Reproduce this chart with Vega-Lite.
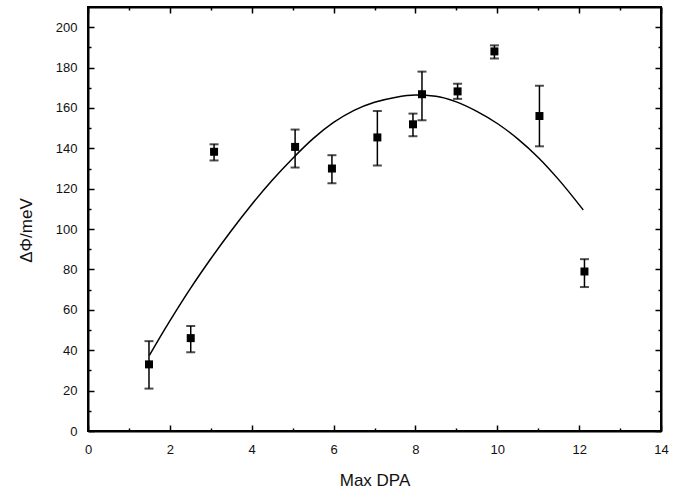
{
  "$schema": "https://vega.github.io/schema/vega-lite/v6.json",
  "width": 573,
  "height": 424,
  "autosize": "none",
  "padding": {"left": 88, "top": 7, "right": 25, "bottom": 62},
  "background": "white",
  "config": {
    "view": {"stroke": "black", "strokeWidth": 2},
    "axis": {"grid": false, "domainColor": "black", "domainWidth": 2, "tickColor": "black", "tickWidth": 1.5, "labelFont": "Liberation Sans", "labelFontSize": 13, "labelColor": "#111", "titleFont": "Liberation Sans", "titleFontSize": 17, "titleFontWeight": "normal", "titleColor": "#111"}
  },
  "datasets": {
    "pts": [
      {"x": 1.49, "y": 33, "lo": 21, "hi": 44.5},
      {"x": 2.51, "y": 46, "lo": 39, "hi": 52},
      {"x": 3.08, "y": 138.3, "lo": 134, "hi": 142},
      {"x": 5.06, "y": 140.7, "lo": 130.5, "hi": 149.3},
      {"x": 5.96, "y": 130, "lo": 122.7, "hi": 136.6},
      {"x": 7.07, "y": 145.4, "lo": 131.5, "hi": 158.5},
      {"x": 7.94, "y": 151.9, "lo": 146, "hi": 157.2},
      {"x": 8.16, "y": 166.8, "lo": 153.9, "hi": 178},
      {"x": 9.03, "y": 168.2, "lo": 164.5, "hi": 172},
      {"x": 9.93, "y": 188, "lo": 184.5, "hi": 191},
      {"x": 11.03, "y": 156, "lo": 141, "hi": 171},
      {"x": 12.13, "y": 79, "lo": 71.3, "hi": 85.1}
    ],
    "fit": [
      {"x": 1.5, "y": 37.5},
      {"x": 2.0, "y": 54.5},
      {"x": 2.5, "y": 70.5},
      {"x": 3.0, "y": 85.3},
      {"x": 3.5, "y": 99.2},
      {"x": 4.0, "y": 112.2},
      {"x": 4.5, "y": 124.2},
      {"x": 5.0, "y": 135},
      {"x": 5.5, "y": 144.8},
      {"x": 6.0, "y": 152.8},
      {"x": 6.5, "y": 158.8},
      {"x": 7.0, "y": 162.8},
      {"x": 7.5, "y": 165.2},
      {"x": 8.0, "y": 166.4},
      {"x": 8.5, "y": 165.8},
      {"x": 9.0, "y": 163},
      {"x": 9.5, "y": 158.3},
      {"x": 10.0, "y": 152.3},
      {"x": 10.5, "y": 144.7},
      {"x": 11.0, "y": 135.5},
      {"x": 11.5, "y": 124.5},
      {"x": 12.1, "y": 109.5}
    ]
  },
  "layer": [
    {
      "data": {"name": "fit"},
      "mark": {"type": "line", "color": "black", "strokeWidth": 1.5, "interpolate": "monotone"},
      "encoding": {
        "x": {"field": "x", "type": "quantitative", "scale": {"domain": [0, 14], "nice": false},
          "axis": {"orient": "bottom", "title": "Max DPA", "values": [0,1,2,3,4,5,6,7,8,9,10,11,12,13,14],
            "labelExpr": "datum.value % 2 ? '' : datum.label",
            "tickSize": {"condition": {"test": "datum.value % 2", "value": -3}, "value": -6},
            "labelPadding": 18, "labelFlush": false,
            "titleY": 49, "titleBaseline": "middle"}},
        "y": {"field": "y", "type": "quantitative", "scale": {"domain": [0, 210], "nice": false},
          "axis": {"orient": "left", "title": "ΔΦ/meV", "values": [0,10,20,30,40,50,60,70,80,90,100,110,120,130,140,150,160,170,180,190,200],
            "labelExpr": "datum.value % 20 ? '' : datum.label",
            "tickSize": {"condition": {"test": "datum.value % 20", "value": -3}, "value": -6},
            "labelPadding": 17, "labelFlush": false,
            "titleX": -62, "titleY": 223, "titleBaseline": "middle"}}
      }
    },
    {
      "data": {"name": "pts"},
      "mark": {"type": "rule", "color": "black", "strokeWidth": 1.5},
      "encoding": {
        "x": {"field": "x", "type": "quantitative",
          "axis": {"orient": "top", "title": null, "labels": false, "values": [0,1,2,3,4,5,6,7,8,9,10,11,12,13,14],
            "tickSize": {"condition": {"test": "datum.value % 2", "value": -3}, "value": -6}}},
        "y": {"field": "lo", "type": "quantitative",
          "axis": {"orient": "right", "title": null, "labels": false, "values": [0,10,20,30,40,50,60,70,80,90,100,110,120,130,140,150,160,170,180,190,200],
            "tickSize": {"condition": {"test": "datum.value % 20", "value": -3}, "value": -6}}},
        "y2": {"field": "hi"}
      }
    },
    {
      "data": {"name": "pts"},
      "mark": {"type": "tick", "orient": "horizontal", "color": "black", "size": 9, "thickness": 2},
      "encoding": {
        "x": {"field": "x", "type": "quantitative", "axis": null},
        "y": {"field": "lo", "type": "quantitative", "axis": null}
      }
    },
    {
      "data": {"name": "pts"},
      "mark": {"type": "tick", "orient": "horizontal", "color": "black", "size": 9, "thickness": 2},
      "encoding": {
        "x": {"field": "x", "type": "quantitative", "axis": null},
        "y": {"field": "hi", "type": "quantitative", "axis": null}
      }
    },
    {
      "data": {"name": "pts"},
      "mark": {"type": "square", "color": "black", "filled": true, "opacity": 1, "size": 64},
      "encoding": {
        "x": {"field": "x", "type": "quantitative", "axis": null},
        "y": {"field": "y", "type": "quantitative", "axis": null}
      }
    }
  ],
  "resolve": {"axis": {"x": "independent", "y": "independent"}}
}
